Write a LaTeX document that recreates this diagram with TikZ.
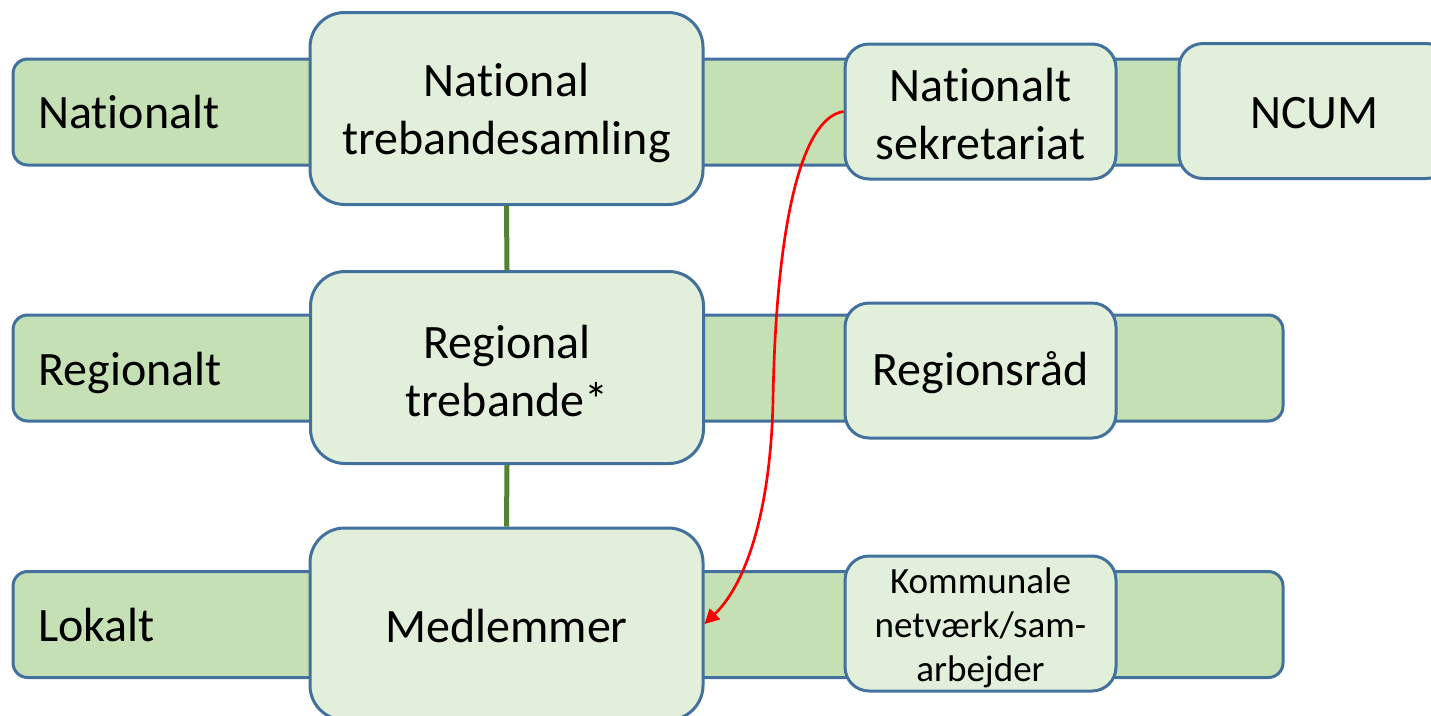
\documentclass[tikz,border=0pt]{standalone}
\usepackage{fontspec}
\setmainfont{Carlito}[Ligatures=NoCommon]
\usetikzlibrary{arrows.meta,calc}
\definecolor{bandfill}{RGB}{197,224,180}
\definecolor{boxfill}{RGB}{226,239,218}
\definecolor{edgeblue}{RGB}{65,113,156}
\definecolor{conngreen}{RGB}{84,130,53}
\newcommand\bigfnt{\fontsize{36}{43.5}\selectfont}
\newcommand\smallfnt{\fontsize{27.8}{33}\selectfont}
\begin{document}
\begin{tikzpicture}[x=0.75pt,y=-0.75pt,
  band/.style={draw=edgeblue, fill=bandfill, line width=2.25pt, rounded corners=11pt, minimum height=79.5pt, inner sep=0pt},
  bigbox/.style={draw=edgeblue, fill=boxfill, line width=2.25pt, rounded corners=26pt, minimum width=294.75pt, minimum height=144pt, inner sep=0pt},
  smallbox/.style={draw=edgeblue, fill=boxfill, line width=2.25pt, rounded corners=18pt, minimum width=203.25pt, minimum height=101.25pt, inner sep=0pt},
  txt/.style={font=\bigfnt, align=center, inner sep=0pt},
  lbl/.style={font=\bigfnt, anchor=base west, inner sep=0pt},
  conn/.style={draw=conngreen, line width=3.75pt},
  redarrow/.style={draw=red, line width=2pt, -{Triangle[length=11pt,width=11pt]}}
]
\useasboundingbox (0,0) rectangle (1431,715);
\clip (0,0) rectangle (1431,715);
% bands
\node[band, minimum width=1077.75pt] (band1) at (731.5,112) {};
\node[band, minimum width=952.5pt] (band2) at (648,368) {};
\node[band, minimum width=952.5pt] (band3) at (648,624.5) {};
% band labels
\node[lbl] (l1) at (38,128) {Nationalt};
\node[lbl] (l2) at (38,385) {Regionalt};
\node[lbl] (l3) at (38,641) {Lokalt};
% big boxes
\node[bigbox] (b1) at (506.5,108.5) {};
\node[bigbox] (b2) at (507,367.5) {};
\node[bigbox] (b3) at (506.5,624) {};
\node[txt] (b1t) at ($(b1.center)+(0,4)$) {National\\trebandesamling};
\node[txt] (b2t) at ($(b2.center)+(0,4)$) {Regional\\trebande*};
\node[txt] (b3t) at ($(b3.center)+(0,2)$) {Medlemmer};
% connectors
\draw[conn] (b1.south) -- (b2.north);
\draw[conn] (b2.south) -- (b3.north);
% small boxes
\node[smallbox] (sek) at (980.5,111.5) {};
\node[smallbox] (reg) at (980.5,370.5) {};
\node[smallbox] (kom) at (980.5,623.5) {};
\node[smallbox] (ncum) at (1314.5,111) {};
\node[txt] (sekt) at ($(sek.center)+(0,3)$) {Nationalt\\sekretariat};
\node[txt] (regt) at ($(reg.center)+(0,2)$) {Regionsråd};
\node[txt, font=\smallfnt] (komt) at ($(kom.center)+(0,4)$) {Kommunale\\netværk/sam-\\arbejder};
\node[txt] (ncumt) at ($(ncum.center)+(0,2)$) {NCUM};
% red arrow
\draw[redarrow] (sek.west) .. controls (800,118) and (776,230) .. (773,400) .. controls (771,500) and (750,580) .. (b3.east);
\end{tikzpicture}
\end{document}
